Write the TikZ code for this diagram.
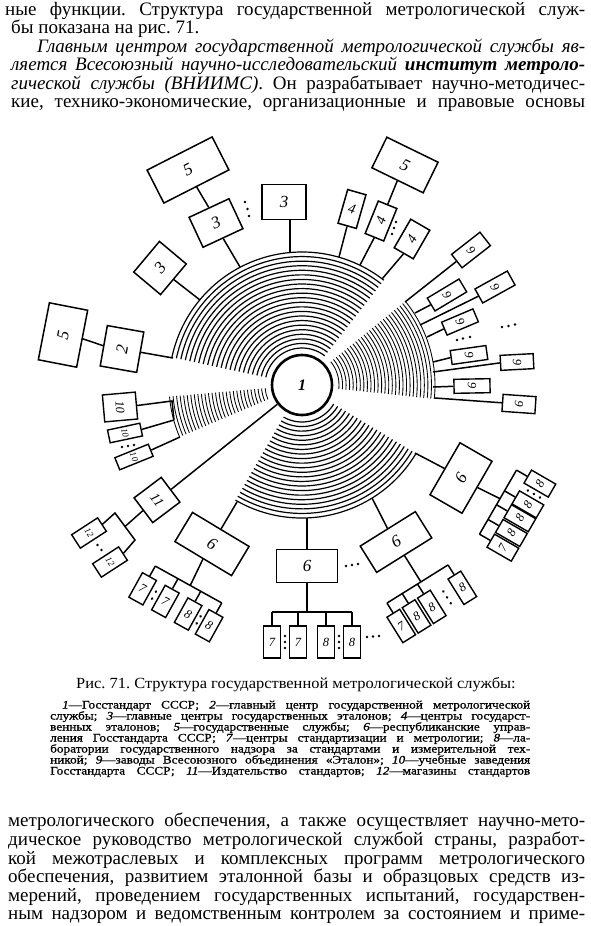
\documentclass[tikz,border=0pt]{standalone}
\usepackage{fontspec}
\setmainfont{Liberation Serif}
\newfontfamily\bodyfont{Liberation Serif}
\newfontfamily\capfont[FakeStretch=1.06]{Liberation Serif}
\newfontfamily\legfont[FakeStretch=1.15,FakeBold=1]{Liberation Serif}
\newfontfamily\digfont{Liberation Serif}
\usetikzlibrary{calc}
\newcommand\bline[2]{\makebox[#1][s]{#2}}
\frenchspacing
\begin{document}
\begin{tikzpicture}[x=1pt,y=-1pt,
 bx/.style={draw,line width=1.5pt,inner sep=0pt,font=\digfont\itshape\fontsize{17}{17}\selectfont},
 sbx/.style={draw,line width=1.4pt,inner sep=0pt,fill=white,font=\digfont\itshape\fontsize{12.5}{12.5}\selectfont},
 tbx/.style={draw,line width=1.4pt,inner sep=0pt,fill=white,font=\digfont\itshape\fontsize{9}{9}\selectfont},
 mbx/.style={draw,line width=1.5pt,inner sep=0pt,fill=white,font=\digfont\itshape\fontsize{14}{14}\selectfont},
 ln/.style={line width=1.5pt},
 fanA/.style={line width=1.2pt},
 fanB/.style={line width=0.85pt},
 txt/.style={anchor=base west,inner sep=0pt,font=\bodyfont\fontsize{19}{19}\selectfont},
 leg/.style={anchor=base west,inner sep=0pt,font=\legfont\fontsize{11.5}{11.5}\selectfont}]
\useasboundingbox (0,0) rectangle (590,926);

% ---------- top text ----------
\node[txt] (t1) at (5,15) {\bline{580pt}{ные функции. Структура государственной метрологической служ-}};
\node[txt] (t2) at (11,33.5) {бы показана на рис. 71.};
\node[txt] (t3) at (37,52) {\itshape\bline{548pt}{Главным центром государственной метрологической службы яв-}};
\node[txt] (t4) at (11,70.5) {\itshape\bline{574pt}{ляется Всесоюзный научно-исследовательский {\bfseries институт метроло-}}};
\node[txt] (t5) at (11,89) {\bline{574pt}{\textit{гической службы (ВНИИМС)}. Он разрабатывает научно-методичес-}};
\node[txt] (t6) at (11,107.5) {\bline{574pt}{кие, технико-экономические, организационные и правовые основы}};

% ---------- centre and fans ----------
\node[circle,draw,line width=2.6pt,minimum size=60pt,inner sep=0pt,
      font=\digfont\bfseries\itshape\fontsize{16}{16}\selectfont] (c1) at (302,385) {1};
\begin{scope}[shift={(302,385)},y=1pt]
 \foreach \i in {0,...,21}{\pgfmathsetmacro\r{37+\i*96/21}
   \draw[fanA] (52:\r) arc[start angle=52,end angle=168,radius=\r];
   \draw[fanA] (240:\r) arc[start angle=240,end angle=329,radius=\r];}
 \foreach \i in {0,...,27}{\pgfmathsetmacro\r{37+\i*96/27}
   \draw[fanB] (-6:\r) arc[start angle=-6,end angle=39,radius=\r];
   \draw[fanB] (185:\r) arc[start angle=185,end angle=203,radius=\r];}
\end{scope}

% ---------- fan edge points ----------
\coordinate (e3a) at (240,267); \coordinate (e3b) at (290,253);
\coordinate (e3c) at (200,300); \coordinate (e2) at (173,358);
\coordinate (e4a) at (339,257); \coordinate (e4b) at (360,265);
\coordinate (e4c) at (382,279);
\coordinate (e9a) at (405,302); \coordinate (e9b) at (415,313);
\coordinate (e9c) at (420,325); \coordinate (e9d) at (427,337);
\coordinate (e9e) at (433,362); \coordinate (e9f) at (433,372);
\coordinate (e9g) at (433,387); \coordinate (e9h) at (435,398);
\coordinate (e10a) at (172,401); \coordinate (e10b) at (174,420);
\coordinate (e10c) at (180,437);
\coordinate (e6a) at (237,502); \coordinate (e6bt) at (307,518);
\coordinate (e6b) at (372,498); \coordinate (e6c) at (415,453);

% ---------- upper group ----------
\node[bx,minimum width=73pt,minimum height=37pt,rotate=27] (b5a) at (188,170) {5};
\node[bx,minimum width=44pt,minimum height=33pt,rotate=25] (b3a) at (216,223) {3};
\node[bx,minimum width=44pt,minimum height=35pt] (b3b) at (284,202) {3};
\node[bx,minimum width=40pt,minimum height=35pt,rotate=50] (b3c) at (160,268) {3};
\node[bx,minimum width=58pt,minimum height=39pt,rotate=79] (b5b) at (63,335) {5};
\node[bx,minimum width=41pt,minimum height=37pt,rotate=80] (b2) at (122,349) {2};
\node[mbx,minimum width=19pt,minimum height=35pt,rotate=-16] (b4a) at (352,209) {4};
\node[mbx,minimum width=35pt,minimum height=20pt,rotate=68] (b4b) at (381,221) {4};
\node[bx,minimum width=57pt,minimum height=34pt,rotate=-26] (b5c) at (405,165) {5};
\node[mbx,minimum width=33pt,minimum height=22pt,rotate=60] (b4c) at (412,239) {4};
\draw[ln] (b5a.south) -- (b3a.north);
\draw[ln] (b3a.south) -- (e3a);
\draw[ln] (b3b.south -| e3b) -- (e3b);
\draw[ln] (b3c.south) -- (e3c);
\draw[ln] (b5b.south) -- (b2.north);
\draw[ln] (b2.south) -- (e2);
\draw[ln] (b4a.south) -- (e4a);
\draw[ln] (b4b.west) -- (e4b);
\draw[ln] (b4b.east) -- (b5c.south);
\draw[ln] (b4c.west) -- (e4c);
\foreach \p in {(245,202),(247.5,209),(249,216),(396,222),(394,228),(392,234)} \fill \p circle[radius=1.4];

% ---------- right group (9) ----------
\node[sbx,minimum width=17pt,minimum height=36pt,rotate=-52] (b9a) at (471,250) {9};
\node[sbx,minimum width=15pt,minimum height=37pt,rotate=-59] (b9b) at (447,295) {9};
\node[sbx,minimum width=16pt,minimum height=37pt,rotate=-61] (b9c) at (495,287) {9};
\node[sbx,minimum width=14pt,minimum height=34pt,rotate=-67] (b9d) at (460,322) {9};
\node[sbx,minimum width=14pt,minimum height=36pt,rotate=-82] (b9e) at (469,355) {9};
\node[sbx,minimum width=15pt,minimum height=33pt,rotate=-87] (b9f) at (517,362) {9};
\node[sbx,minimum width=14pt,minimum height=36pt,rotate=-89] (b9g) at (472,386) {9};
\node[sbx,minimum width=17pt,minimum height=33pt,rotate=-94] (b9h) at (519,404) {9};
\foreach \n in {a,b,c,d,e,f,g,h} \draw[ln] (b9\n.south) -- (e9\n);
\foreach \p in {(457,340),(463,338.5),(470,337),(502,327),(508.5,326),(515,324.5)} \fill \p circle[radius=1.4];

% ---------- left group (10) ----------
\node[sbx,minimum width=27pt,minimum height=33pt,rotate=-85] (b10a) at (120,407) {10};
\node[tbx,minimum width=13pt,minimum height=33pt,rotate=-78] (b10b) at (125,433) {10};
\node[tbx,minimum width=13pt,minimum height=36pt,rotate=-68] (b10c) at (134,457) {10};
\draw[ln] (b10a.north) -- (e10a) -- (e10b);
\draw[ln] (b10b.north) -- (e10b);
\draw[ln] (b10c.north) -- (e10c);
\foreach \p in {(122,447),(128,446),(134,445)} \fill \p circle[radius=1.4];

% ---------- 11 and 12 ----------
\node[mbx,minimum width=31pt,minimum height=34pt,rotate=-53] (b11) at (157,500) {11};
\draw[ln] (c1.218) -- (b11.north);
\node[tbx,minimum width=16pt,minimum height=31pt,rotate=-57] (b12a) at (89,533) {12};
\node[tbx,minimum width=16pt,minimum height=31pt,rotate=-57] (b12b) at (110,562) {12};
\coordinate (p2) at (115,513); \coordinate (p3) at (135,540);
\coordinate (p23) at ($(p2)!0.5!(p3)$);
\draw[ln] (b12a.north) -- (p2) -- (p3) -- (b12b.north);
\draw[ln] (b11.south) -- (p23);
\foreach \p in {(97.5,545),(101.5,550)} \fill \p circle[radius=1.4];

% ---------- lower-left 6 ----------
\node[bx,minimum width=66pt,minimum height=34pt,rotate=-31] (b6ll) at (212,544) {6};
\draw[ln] (b6ll.north) -- (e6a);
\begin{scope}[shift={(188.5,584.5)},rotate=-29]
 \foreach \n/\u/\t in {a/-38/7,b/-12/7,c/14/8,d/38/8}{
   \node[sbx,minimum width=16pt,minimum height=28pt,rotate=-29] (ll\n) at (\u,26) {\t};
   \coordinate (llt\n) at (\u,0);
   \draw[ln] (ll\n.north) -- (llt\n);}
 \coordinate (llm) at (2,0);
 \draw[ln] (llta) -- (lltd);
 \foreach \p in {(-25,22),(-25,30),(26,22),(26,30)} \fill \p circle[radius=1.4];
\end{scope}
\draw[ln] (b6ll.south) -- (llm);

% ---------- bottom 6 ----------
\node[bx,minimum width=61pt,minimum height=33pt] (b6bt) at (307,566) {6};
\draw[ln] (b6bt.north) -- (e6bt);
\foreach \n/\u/\t in {a/272/7,b/298/7,c/326/8,d/352/8}{
   \node[sbx,minimum width=17pt,minimum height=32pt] (bt\n) at (\u,642) {\t};
   \coordinate (btt\n) at (\u,612);
   \draw[ln] (bt\n.north) -- (btt\n);}
\draw[ln] (btta) -- (bttd);
\draw[ln] (b6bt.south) -- (b6bt.south |- btta);
\foreach \p in {(285,636),(285,642),(285,648),(339,636),(339,642),(339,648),
  (367,637),(373,636.5),(379,636),(346,566),(352,565),(358,564)} \fill \p circle[radius=1.4];

% ---------- lower-right 6 ----------
\node[bx,minimum width=65pt,minimum height=31pt,rotate=32] (b6lr) at (396,542) {6};
\draw[ln] (b6lr.north) -- (e6b);
\begin{scope}[shift={(417.5,584)},rotate=32]
 \foreach \n/\u/\t in {a/-36/7,b/-18/8,c/0/8,d/36/8}{
   \node[sbx,minimum width=15pt,minimum height=30pt,rotate=32] (lr\n) at (\u,27) {\t};
   \coordinate (lrt\n) at (\u,0);
   \draw[ln] (lr\n.north) -- (lrt\n);}
 \coordinate (lrm) at (4,0);
 \draw[ln] (lrta) -- (lrtd);
 \foreach \p in {(18,20),(18,27),(18,34)} \fill \p circle[radius=1.4];
\end{scope}
\draw[ln] (b6lr.south) -- (lrm);

% ---------- right 6 ----------
\node[bx,minimum width=60pt,minimum height=37pt,rotate=60] (b6r) at (461,478) {6};
\draw[ln] (e6c) -- (b6r.north);
\begin{scope}[shift={(497.5,503)},rotate=60]
 \foreach \n/\u/\t in {a/-36/7,b/-19/8,c/-2/8,d/14/8,e/38/8}{
   \node[sbx,minimum width=15pt,minimum height=28pt,rotate=60] (rr\n) at (\u,27) {\t};
   \coordinate (rrt\n) at (\u,0);
   \draw[ln] (rr\n.north) -- (rrt\n);}
 \coordinate (rrm) at (5,0);
 \draw[ln] (rrta) -- (rrte);
 \foreach \p in {(26,20),(26,27),(26,34)} \fill \p circle[radius=1.4];
\end{scope}
\draw[ln] (b6r.south) -- (rrm);

% ---------- caption and legend ----------
\node[anchor=base,inner sep=0pt,font=\capfont\fontsize{15.5}{15.5}\selectfont] (cap) at (296,688) {Рис. 71. Структура государственной метрологической службы:};
\node[leg] (l1) at (62,708.5) {\bline{468pt}{\textit{1}—Госстандарт СССР; \textit{2}—главный центр государственной метрологической}};
\node[leg] (l2) at (50,719.5) {\bline{480pt}{службы; \textit{3}—главные центры государственных эталонов; \textit{4}—центры государст-}};
\node[leg] (l3) at (50,730.5) {\bline{480pt}{венных эталонов; \textit{5}—государственные службы; \textit{6}—республиканские управ-}};
\node[leg] (l4) at (50,741.5) {\bline{480pt}{ления Госстандарта СССР; \textit{7}—центры стандартизации и метрологии; \textit{8}—ла-}};
\node[leg] (l5) at (50,752.5) {\bline{480pt}{боратории государственного надзора за стандартами и измерительной тех-}};
\node[leg] (l6) at (50,763.5) {\bline{480pt}{никой; \textit{9}—заводы Всесоюзного объединения «Эталон»; \textit{10}—учебные заведения}};
\node[leg] (l7) at (50,774.5) {\bline{480pt}{Госстандарта СССР; \textit{11}—Издательство стандартов; \textit{12}—магазины стандартов}};

% ---------- bottom text ----------
\node[txt] (u1) at (8,826.5) {\bline{577pt}{метрологического обеспечения, а также осуществляет научно-мето-}};
\node[txt] (u2) at (8,845.5) {\bline{577pt}{дическое руководство метрологической службой страны, разработ-}};
\node[txt] (u3) at (8,864.5) {\bline{577pt}{кой межотраслевых и комплексных программ метрологического}};
\node[txt] (u4) at (8,882.5) {\bline{577pt}{обеспечения, развитием эталонной базы и образцовых средств из-}};
\node[txt] (u5) at (8,901.5) {\bline{577pt}{мерений, проведением государственных испытаний, государствен-}};
\node[txt] (u6) at (8,919.5) {\bline{577pt}{ным надзором и ведомственным контролем за состоянием и приме-}};
\end{tikzpicture}
\end{document}
